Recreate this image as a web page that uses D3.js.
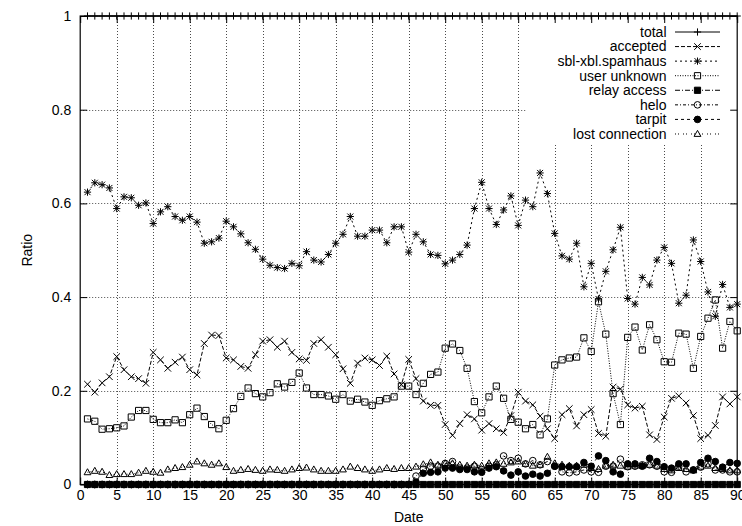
<!DOCTYPE html>
<html>
<head>
<meta charset="utf-8">
<script src="https://cdn.jsdelivr.net/npm/d3@7"></script>
<style>
  html, body { margin: 0; padding: 0; background: #fff; }
  svg { display: block; }
  text { font-family: "Liberation Sans", Arial, Helvetica, sans-serif; fill: #000; }
</style>
</head>
<body>
<svg id="chart" width="742" height="526"></svg>
<script>
// Days on the x axis
const days = d3.range(1, 91);

// Daily ratios per mail outcome
const total = [
  1,1,1,1,1,1,1,1,1,1, 1,1,1,1,1,1,1,1,1,1, 1,1,1,1,1,1,1,1,1,1,
  1,1,1,1,1,1,1,1,1,1, 1,1,1,1,1,1,1,1,1,1, 1,1,1,1,1,1,1,1,1,1,
  1,1,1,1,1,1,1,1,1,1, 1,1,1,1,1,1,1,1,1,1, 1,1,1,1,1,1,1,1,1,1
];
const accepted = [
  0.214,0.197,0.217,0.230,0.273,0.245,0.230,0.226,0.216,0.282,
  0.266,0.248,0.261,0.272,0.245,0.234,0.301,0.319,0.318,0.270,
  0.266,0.252,0.248,0.277,0.306,0.309,0.293,0.306,0.282,0.268,
  0.265,0.301,0.309,0.293,0.277,0.247,0.216,0.259,0.270,0.266,
  0.254,0.274,0.236,0.213,0.267,0.226,0.178,0.169,0.169,0.128,
  0.105,0.130,0.149,0.140,0.116,0.130,0.119,0.111,0.147,0.197,
  0.178,0.170,0.146,0.119,0.098,0.149,0.162,0.125,0.149,0.160,
  0.109,0.103,0.208,0.204,0.170,0.163,0.167,0.106,0.096,0.144,
  0.184,0.189,0.174,0.147,0.098,0.105,0.126,0.187,0.172,0.187
];
const spamhaus = [
  0.624,0.644,0.640,0.633,0.589,0.614,0.612,0.596,0.601,0.557,
  0.582,0.593,0.572,0.564,0.572,0.560,0.515,0.518,0.526,0.562,
  0.550,0.535,0.516,0.502,0.481,0.468,0.463,0.461,0.472,0.467,
  0.497,0.479,0.475,0.491,0.515,0.534,0.572,0.530,0.530,0.543,
  0.543,0.516,0.550,0.550,0.496,0.534,0.518,0.491,0.489,0.471,
  0.479,0.491,0.511,0.589,0.645,0.589,0.555,0.586,0.616,0.553,
  0.607,0.593,0.665,0.621,0.536,0.488,0.481,0.515,0.422,0.472,
  0.396,0.455,0.501,0.549,0.397,0.385,0.442,0.426,0.479,0.506,
  0.472,0.387,0.404,0.522,0.476,0.411,0.359,0.427,0.378,0.385
];
const userUnknown = [
  0.140,0.135,0.118,0.119,0.121,0.125,0.144,0.158,0.158,0.139,
  0.132,0.132,0.138,0.132,0.149,0.163,0.145,0.128,0.119,0.137,
  0.162,0.188,0.206,0.194,0.187,0.196,0.215,0.208,0.218,0.238,
  0.206,0.192,0.192,0.189,0.182,0.192,0.178,0.182,0.176,0.169,
  0.179,0.183,0.187,0.210,0.210,0.192,0.216,0.235,0.240,0.291,
  0.300,0.286,0.248,0.177,0.153,0.187,0.210,0.184,0.139,0.133,
  0.119,0.128,0.106,0.140,0.255,0.266,0.270,0.272,0.313,0.284,
  0.390,0.321,0.194,0.128,0.314,0.336,0.287,0.341,0.309,0.262,
  0.261,0.323,0.321,0.248,0.316,0.355,0.394,0.291,0.348,0.328
];
const relayAccess = [
  0,0,0,0,0,0,0,0,0,0, 0,0,0,0,0,0,0,0,0,0, 0,0,0,0,0,0,0,0,0,0,
  0,0,0,0,0,0,0,0,0,0, 0,0,0,0,0,0,0,0,0,0, 0,0,0,0,0,0,0,0,0,0,
  0,0,0,0,0,0,0,0,0,0, 0,0,0,0,0,0,0,0,0,0, 0,0,0,0,0,0,0,0,0,0
];
const helo = [
  0,0,0,0,0,0,0,0,0,0, 0,0,0,0,0,0,0,0,0,0, 0,0,0,0,0,0,0,0,0,0,
  0,0,0,0,0,0,0,0,0,0, 0,0,0,0,0,
  0.018,0.033,0.039,0.039,0.045,0.049,0.035,0.035,0.039,0.032,
  0.039,0.042,0.061,0.051,0.056,0.044,0.051,0.042,0.049,0.039,
  0.027,0.025,0.027,0.031,0.027,0.026,0.039,0.039,0.054,0.038,
  0.039,0.042,0.042,0.039,0.027,0.026,0.039,0.027,0.031,0.037,
  0.044,0.031,0.031,0.027,0.027
];
const tarpit = [
  0,0,0,0,0,0,0,0,0,0, 0,0,0,0,0,0,0,0,0,0, 0,0,0,0,0,0,0,0,0,0,
  0,0,0,0,0,0,0,0,0,0, 0,0,0,0,0,
  0.005,0.024,0.026,0.027,0.035,0.035,0.032,0.032,0.027,0.026,
  0.035,0.038,0.029,0.020,0.027,0.018,0.022,0.018,0.024,0.039,
  0.038,0.038,0.038,0.047,0.039,0.061,0.051,0.027,0.022,0.044,
  0.044,0.039,0.056,0.049,0.038,0.035,0.044,0.044,0.031,0.047,
  0.056,0.049,0.037,0.047,0.045
];
const lostConnection = [
  0.026,0.029,0.027,0.020,0.022,0.022,0.022,0.025,0.029,0.027,
  0.025,0.032,0.035,0.037,0.042,0.049,0.045,0.042,0.045,0.037,
  0.029,0.031,0.033,0.031,0.029,0.032,0.031,0.029,0.032,0.035,
  0.036,0.032,0.029,0.029,0.029,0.032,0.038,0.035,0.032,0.029,
  0.032,0.035,0.033,0.035,0.035,0.038,0.043,0.047,0.042,0.045,
  0.045,0.042,0.040,0.042,0.040,0.045,0.047,0.044,0.047,0.049,
  0.044,0.040,0.042,0.059,0.045,0.042,0.040,0.040,0.042,0.035,
  0.033,0.040,0.042,0.040,0.038,0.040,0.040,0.042,0.040,0.033,
  0.030,0.035,0.033,0.030,0.038,0.040,0.035,0.033,0.030,0.030
];

// Tick values and labels
const xTicks = [0,5,10,15,20,25,30,35,40,45,50,55,60,65,70,75,80,85,90];
const xTickLabels = ["0","5","10","15","20","25","30","35","40","45","50","55","60","65","70","75","80","85","90"];
const yTicks = [0,0.2,0.4,0.6,0.8,1];
const yTickLabels = ["0","0.2","0.4","0.6","0.8","1"];

// Series names, in drawing order
const seriesNames = ["total","accepted","sbl-xbl.spamhaus","user unknown","relay access","helo","tarpit","lost connection"];
const seriesValues = [total, accepted, spamhaus, userUnknown, relayAccess, helo, tarpit, lostConnection];

// Line and point styles per series
const styles = [
  { dash: null,        marker: "plus" },
  { dash: "4,2",       marker: "cross" },
  { dash: "2,3",       marker: "star" },
  { dash: "1,1.5",     marker: "box" },
  { dash: "5,2,1,2",   marker: "fbox" },
  { dash: "3,2,1,2",   marker: "circle" },
  { dash: "3,3",       marker: "fcircle" },
  { dash: "1,2,1,4",   marker: "triangle" }
];

const L = 80.2, R = 737.2, T = 16, B = 484.5;
const x = d3.scaleLinear().domain([0, 90]).range([L, R]);
const y = d3.scaleLinear().domain([0, 1]).range([B, T]);

const svg = d3.select("#chart");

function markerPath(type) {
  const s = 3.3;
  switch (type) {
    case "plus": { const p = 3.6; return `M${-p},0H${p}M0,${-p}V${p}`; }
    case "cross": return `M${-s},${-s}L${s},${s}M${-s},${s}L${s},${-s}`;
    case "star": { const p = 3.6, q = 3.0;
      return `M${-p},0H${p}M0,${-p}V${p}M${-q},${-q}L${q},${q}M${-q},${q}L${q},${-q}`; }
    case "box":
    case "fbox": { const b = 3.1; return `M${-b},${-b}H${b}V${b}H${-b}Z`; }
    case "circle":
    case "fcircle": { const r = 3.3; return `M${r},0A${r},${r} 0 1,1 ${-r},0A${r},${r} 0 1,1 ${r},0Z`; }
    case "triangle": return `M0,${-3.6}L${3.4},${2.4}L${-3.4},${2.4}Z`;
  }
}
const filled = t => t === "fbox" || t === "fcircle";

// Grid
const grid = svg.append("g").attr("stroke", "#000").attr("stroke-width", 1)
  .attr("stroke-dasharray", "1,2").attr("opacity", 0.7);
grid.selectAll("line.v").data(xTicks.filter(d => d > 0 && d < 90)).join("line")
  .attr("x1", d => Math.round(x(d)) + 0.5).attr("x2", d => Math.round(x(d)) + 0.5)
  .attr("y1", T).attr("y2", B);
grid.selectAll("line.h").data(yTicks.filter(d => d > 0 && d < 1)).join("line")
  .attr("x1", L).attr("x2", R)
  .attr("y1", d => Math.round(y(d)) + 0.5).attr("y2", d => Math.round(y(d)) + 0.5);

// Key background
svg.append("rect").attr("x", 527).attr("y", T + 1).attr("width", R - 527 - 1).attr("height", 126)
  .attr("fill", "#fff");

// Axes with inward ticks
const yAxisL = d3.axisLeft(y).tickValues(yTicks).tickFormat((d, i) => yTickLabels[i])
  .tickSize(-7).tickSizeOuter(0).tickPadding(9);
const yAxisR = d3.axisRight(y).tickValues(yTicks).tickFormat("").tickSize(-7).tickSizeOuter(0);
const xAxisB = d3.axisBottom(x).tickValues(xTicks).tickFormat((d, i) => xTickLabels[i])
  .tickSize(-7).tickSizeOuter(0).tickPadding(6);
const xAxisT = d3.axisTop(x).tickValues(xTicks).tickFormat("").tickSize(-7).tickSizeOuter(0);

function styleAxis(g) {
  g.select(".domain").remove();
  g.selectAll(".tick line").attr("stroke", "#000");
  g.selectAll(".tick text").attr("font-size", 14).attr("fill", "#000")
    .attr("font-family", '"Liberation Sans", Arial, sans-serif');
}
svg.append("g").attr("transform", `translate(${L},0)`).call(yAxisL).call(styleAxis);
svg.append("g").attr("transform", `translate(${R},0)`).call(yAxisR).call(styleAxis);
svg.append("g").attr("transform", `translate(0,${B})`).call(xAxisB).call(styleAxis);
svg.append("g").attr("transform", `translate(0,${T})`).call(xAxisT).call(styleAxis);

// Frame
svg.append("rect").attr("x", L).attr("y", T).attr("width", R - L).attr("height", B - T)
  .attr("fill", "none").attr("stroke", "#000").attr("stroke-width", 1.2);

// Axis titles
svg.append("text").attr("x", (L + R) / 2).attr("y", 522).attr("text-anchor", "middle")
  .attr("font-size", 14).text("Date");
svg.append("text").attr("transform", `translate(32,${(T + B) / 2}) rotate(-90)`)
  .attr("text-anchor", "middle").attr("font-size", 14).text("Ratio");

// Series
const line = d3.line().x(d => x(d.day)).y(d => y(d.v));
seriesNames.forEach((name, i) => {
  const st = styles[i];
  const pts = days.map((day, j) => ({ day, v: seriesValues[i][j] }));
  const g = svg.append("g").attr("class", "series");
  g.append("path").datum(pts).attr("d", line).attr("fill", "none")
    .attr("stroke", "#000").attr("stroke-width", 1)
    .attr("stroke-dasharray", st.dash);
  g.selectAll("path.pt").data(pts).join("path").attr("class", "pt")
    .attr("transform", d => `translate(${x(d.day)},${y(d.v)})`)
    .attr("d", markerPath(st.marker))
    .attr("fill", filled(st.marker) ? "#000" : "none")
    .attr("stroke", "#000").attr("stroke-width", 1);
});

// Key
const key = svg.append("g");
seriesNames.forEach((name, i) => {
  const st = styles[i];
  const ky = 32 + i * 14.57;
  key.append("text").attr("x", 666.5).attr("y", ky).attr("dy", "0.35em")
    .attr("text-anchor", "end").attr("font-size", 14).text(name);
  key.append("line").attr("x1", 675).attr("x2", 720).attr("y1", ky).attr("y2", ky)
    .attr("stroke", "#000").attr("stroke-width", 1).attr("stroke-dasharray", st.dash);
  key.append("path").attr("transform", `translate(697.5,${ky})`).attr("d", markerPath(st.marker))
    .attr("fill", filled(st.marker) ? "#000" : "none").attr("stroke", "#000").attr("stroke-width", 1);
});
</script>
</body>
</html>
